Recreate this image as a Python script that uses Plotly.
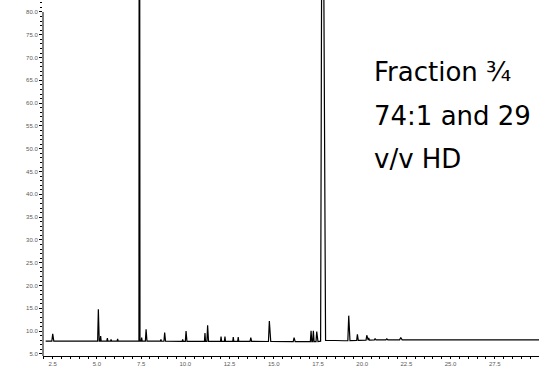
import numpy as np
import plotly.graph_objects as go

# Peak table of the chromatogram: retention time (min) and apex response
peak_rt = [2.50, 5.08, 5.21, 5.59, 5.80, 6.17, 7.40, 7.53, 7.78, 8.62, 8.83,
           9.85, 10.04, 11.11, 11.26, 12.02, 12.24, 12.71, 12.99, 13.70, 14.75,
           16.15, 17.11, 17.24, 17.43, 17.75, 19.24, 19.73, 20.26, 20.37, 20.73,
           21.39, 22.18]
peak_height = [9.4, 14.8, 8.9, 8.5, 8.2, 8.3, 200.0, 8.6, 10.4, 8.2, 9.7,
               8.2, 10.0, 9.6, 11.3, 8.8, 8.8, 8.7, 8.7, 8.6, 12.2,
               8.6, 10.1, 10.1, 9.9, 150.0, 13.4, 9.3, 9.1, 8.5, 8.4,
               8.3, 8.6]
# half widths (left, right) of each peak foot, in minutes
peak_half_left = [0.05, 0.04, 0.03, 0.03, 0.03, 0.03, 0.025, 0.03, 0.04, 0.03, 0.04,
                  0.03, 0.04, 0.03, 0.04, 0.03, 0.03, 0.03, 0.03, 0.04, 0.05,
                  0.05, 0.04, 0.04, 0.04, 0.10, 0.05, 0.04, 0.04, 0.03, 0.04,
                  0.05, 0.06]
peak_half_right = [0.06, 0.05, 0.03, 0.03, 0.03, 0.03, 0.035, 0.03, 0.05, 0.03, 0.05,
                   0.03, 0.05, 0.03, 0.05, 0.03, 0.03, 0.03, 0.03, 0.05, 0.08,
                   0.06, 0.04, 0.04, 0.04, 0.18, 0.07, 0.05, 0.04, 0.04, 0.05,
                   0.06, 0.08]

# Baseline level of the detector trace
base_t = [2.10, 7.30, 7.70, 17.50, 17.95, 19.00, 21.00, 30.00]
base_v = [7.80, 7.80, 7.80, 7.70, 8.00, 7.90, 8.10, 8.10]

y_tick_vals = [5, 10, 15, 20, 25, 30, 35, 40, 45, 50, 55, 60, 65, 70, 75, 80]
y_tick_text = ["5.0", "10.0", "15.0", "20.0", "25.0", "30.0", "35.0", "40.0",
               "45.0", "50.0", "55.0", "60.0", "65.0", "70.0", "75.0", "80.0"]
x_tick_vals = [2.5, 5.0, 7.5, 10.0, 12.5, 15.0, 17.5, 20.0, 22.5, 25.0, 27.5, 30.0]
x_tick_text = ["2.5", "5.0", "7.5", "10.0", "12.5", "15.0", "17.5", "20.0",
               "22.5", "25.0", "27.5", "30.0"]

label_lines = ["Fraction ¾", "74:1 and 29", "v/v HD"]

# Assemble the trace vertices: baseline knots plus a foot/apex/foot per peak
pts = []
windows = []
for rt, h, hl, hr in zip(peak_rt, peak_height, peak_half_left, peak_half_right):
    a, b = rt - hl, rt + hr
    windows.append((a, b))
    pts.append((a, float(np.interp(a, base_t, base_v))))
    pts.append((rt, h))
    pts.append((b, float(np.interp(b, base_t, base_v))))
for t, v in zip(base_t, base_v):
    if not any(a <= t <= b for a, b in windows):
        pts.append((t, v))
pts.sort(key=lambda p: p[0])
trace_t = [p[0] for p in pts]
trace_v = [p[1] for p in pts]

Y_MIN, Y_MAX = 4.55, 82.63
X_MIN, X_MAX = 1.95, 30.0

fig = go.Figure()
fig.add_trace(go.Scatter(
    x=trace_t, y=trace_v, mode="lines",
    line=dict(color="black", width=1.2),
    hoverinfo="skip", showlegend=False,
))

tick_font = dict(family="Liberation Sans", size=6, color="#5a5a5a")

fig.update_xaxes(
    range=[X_MIN, X_MAX], showgrid=False, zeroline=False, automargin=False,
    showline=True, linecolor="black", linewidth=1,
    tickmode="array", tickvals=x_tick_vals, ticktext=x_tick_text,
    ticks="outside", ticklen=2, tickwidth=1, tickcolor="black",
    tickfont=tick_font,
    minor=dict(dtick=0.5, tick0=0, ticks="outside", ticklen=2, tickcolor="black"),
)
fig.update_yaxes(
    range=[Y_MIN, Y_MAX], showgrid=False, zeroline=False, showline=False,
    automargin=False,
    tickmode="array", tickvals=y_tick_vals, ticktext=y_tick_text,
    ticks="outside", ticklen=3, tickwidth=1, tickcolor="black",
    tickfont=tick_font,
    minor=dict(dtick=1, tick0=0, ticks="outside", ticklen=2, tickcolor="black"),
)

# vertical axis line stops at the top tick
fig.add_shape(type="line", xref="paper", x0=0, x1=0, yref="y",
              y0=Y_MIN, y1=80, line=dict(color="black", width=1))

for txt, yp in zip(label_lines, [0.798, 0.675, 0.552]):
    fig.add_annotation(
        text=txt, xref="paper", yref="paper", x=0.663, y=yp,
        xanchor="left", yanchor="middle", showarrow=False,
        font=dict(family="DejaVu Sans", size=26, color="black"),
    )

fig.update_layout(
    width=539, height=366,
    margin=dict(l=43, r=0, t=0, b=10, autoexpand=False),
    paper_bgcolor="white", plot_bgcolor="white",
)

fig.write_html("out.html")
